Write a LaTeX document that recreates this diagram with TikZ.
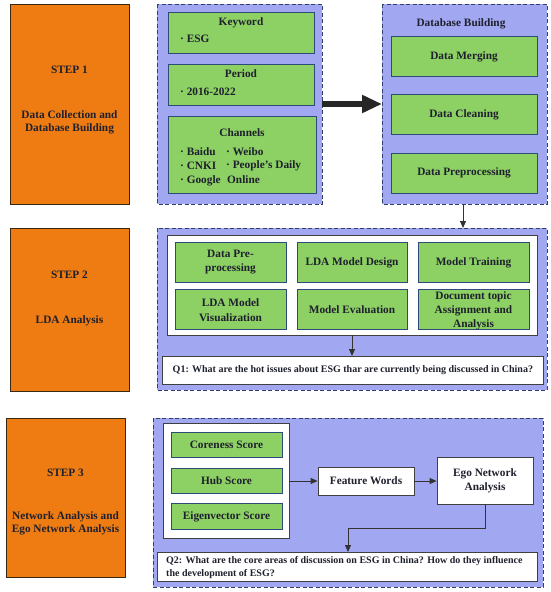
\documentclass[tikz,border=0pt]{standalone}
\usepackage{fontspec}
\setmainfont{Liberation Serif}
\usetikzlibrary{arrows.meta}
\definecolor{org}{RGB}{238,124,18}
\definecolor{lav}{RGB}{162,167,241}
\definecolor{grn}{RGB}{141,208,100}
\definecolor{navy}{RGB}{50,62,105}
\definecolor{gb}{RGB}{45,75,120}
\definecolor{txt}{RGB}{30,32,45}
\tikzset{
  stepbox/.style={draw=black!70!brown, line width=0.8pt, fill=org},
  grp/.style={draw=navy, dashed, dash pattern=on 4pt off 2.5pt, line width=1pt, fill=lav},
  gbox/.style={draw=gb, line width=0.8pt, fill=grn},
  wbox/.style={draw=black!75, line width=0.8pt, fill=white},
  lbl/.style={font=\fontsize{11.3}{14.5}\selectfont\bfseries, text=txt, align=center, inner sep=0pt},
  slbl/.style={font=\fontsize{11.3}{13}\selectfont\bfseries, text=txt, align=center, inner sep=0pt},
  qlbl/.style={font=\fontsize{10}{12}\selectfont\bfseries, text=txt, inner sep=0pt},
  arr/.style={-{Triangle[length=7pt,width=6pt]}, draw=black!80, line width=0.8pt},
}
\begin{document}
\begin{tikzpicture}[x=1pt,y=-1pt]
\useasboundingbox (0,0) rectangle (550,592);
% STEP boxes
\draw[stepbox] (10,4) rectangle (129,204);
\node[slbl] (s1a) at (69.5,70) {STEP 1};
\node[slbl] (s1b) at (69.5,122.5) {Data Collection and\\Database Building};
\draw[stepbox] (10,228) rectangle (129,391);
\node[slbl] (s2a) at (69.5,275) {STEP 2};
\node[slbl] (s2b) at (69.5,321) {LDA Analysis};
\draw[stepbox] (6,418) rectangle (125,577);
\node[slbl] (s3a) at (65.5,473) {STEP 3};
\node[slbl] (s3b) at (65.5,523.5) {Network Analysis and\\Ego Network Analysis};
% Step 1 group
\draw[grp] (157,4) rectangle (322,204);
\coordinate (g1e) at (322,104);
\draw[gbox] (168,12) rectangle (314,53);
\node[lbl] (kw) at (241,23) {Keyword};
\node[lbl, anchor=west] (esg) at (180,39) {· ESG};
\draw[gbox] (168,64) rectangle (314,105);
\node[lbl] (per) at (241,74) {Period};
\node[lbl, anchor=west] (yr) at (180,92) {· 2016-2022};
\draw[gbox] (168,116) rectangle (316,193);
\node[lbl] (ch) at (242,133) {Channels};
\node[lbl, anchor=west] (c1) at (180,152) {· Baidu};
\node[lbl, anchor=west] (c2) at (180,166) {· CNKI};
\node[lbl, anchor=west] (c3) at (180,181) {· Google};
\node[lbl, anchor=west] (c4) at (226,152) {· Weibo};
\node[lbl, anchor=west] (c5) at (226,166) {· People's Daily};
\node[lbl, anchor=west] (c6) at (227,180) {Online};
% Database group
\draw[grp] (382,4) rectangle (547,204);
\coordinate (g2w) at (382,104);
\coordinate (g2s) at (463,204);
\node[lbl] (dbb) at (461,24) {Database Building};
\draw[gbox] (391,36) rectangle (537,76);
\node[lbl] (dm) at (464,57) {Data Merging};
\draw[gbox] (391,94) rectangle (537,134);
\node[lbl] (dc) at (464,115) {Data Cleaning};
\draw[gbox] (391,153) rectangle (537,193);
\node[lbl] (dp) at (464,173) {Data Preprocessing};
% big arrow
\draw[draw=black!85, line width=6pt, -{Triangle[length=20pt,width=17pt]}] (g1e) -- (g2w);
% Step 2 group
\draw[grp] (157,228) rectangle (547,390);
\coordinate (g3n) at (463,228);
\draw[arr] (g2s) -- (g3n);
\draw[wbox] (167,235) rectangle (537,335);
\coordinate (w2s) at (352,335);
\draw[gbox] (175,242) rectangle (286,282);
\node[lbl] (l1) at (230.5,262) {Data Pre-\\processing};
\draw[gbox] (297,242) rectangle (407,282);
\node[lbl] (l2) at (352,263) {LDA Model Design};
\draw[gbox] (418,242) rectangle (529,282);
\node[lbl] (l3) at (473.5,263) {Model Training};
\draw[gbox] (175,289) rectangle (286,329);
\node[lbl] (l4) at (230.5,310) {LDA Model\\Visualization};
\draw[gbox] (297,289) rectangle (407,329);
\node[lbl] (l5) at (352,310) {Model Evaluation};
\draw[gbox] (418,289) rectangle (529,329);
\node[lbl, font=\fontsize{11.3}{14}\selectfont\bfseries] (l6) at (473.5,311) {Document topic\\Assignment and\\Analysis};
\node[wbox, minimum width=381pt, minimum height=28pt, anchor=north west, inner sep=0pt] (q1) at (162,356) {};
\node[qlbl] (q1t) at (q1.center) {Q1: What are the hot issues about ESG thar are currently being discussed in China?};
\draw[arr] (w2s) -- (w2s |- q1.north);
% Step 3 group
\draw[grp] (153,418) rectangle (543,587);
\node[wbox, minimum width=126pt, minimum height=115pt, anchor=north west, inner sep=0pt] (w3) at (163,423) {};
\draw[gbox] (171,432) rectangle (282,457);
\node[lbl] (cs) at (226.5,445) {Coreness Score};
\draw[gbox] (171,468) rectangle (282,493);
\node[lbl] (hs) at (226.5,481) {Hub Score};
\draw[gbox] (171,503) rectangle (282,529);
\node[lbl] (es) at (226.5,517) {Eigenvector Score};
\node[wbox, lbl, minimum width=96pt, minimum height=28pt] (fw) at (366,481) {Feature Words};
\node[wbox, lbl, font=\fontsize{11.3}{14}\selectfont\bfseries, minimum width=96pt, minimum height=47pt] (ego) at (485,480.5) {Ego Network\\Analysis};
\node[wbox, minimum width=380pt, minimum height=29pt, anchor=north west, inner sep=0pt] (q2) at (157,552) {};
\node[qlbl, align=left, anchor=north west] (q2t) at (166,556) {Q2: What are the core areas of discussion on ESG in China? How do they influence\\[1pt]the development of ESG?};
\draw[arr] (w3.east |- fw) -- (fw.west);
\draw[arr] (fw.east) -- (ego.west |- fw);
\draw[arr] (ego.south) -- (485,528) -- (348,528) -- (348,552);
\end{tikzpicture}
\end{document}
